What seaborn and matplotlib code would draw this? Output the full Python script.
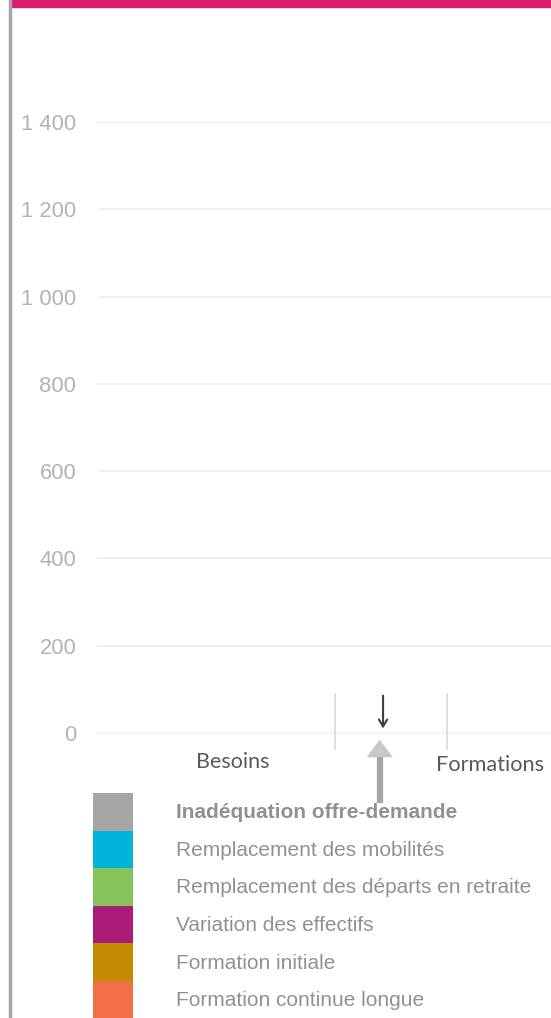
import pandas as pd
import matplotlib.pyplot as plt
import seaborn as sns
from matplotlib.patches import Patch

# données du graphique
categories = ['Besoins', 'Écart', 'Formations']
variation_effectifs = [0, 0, 0]
departs_retraite = [0, 0, 0]
mobilites = [0, 0, 0]
inadequation = [0, 0, 0]
formation_initiale = [0, 0, 0]
formation_continue = [0, 0, 1]
y_ticks = [0, 200, 400, 600, 800, 1000, 1200, 1400]

series = [
    ('Variation des effectifs', variation_effectifs, '#ab1c7a'),
    ('Remplacement des départs en retraite', departs_retraite, '#86c35b'),
    ('Remplacement des mobilités', mobilites, '#00b5d9'),
    ('Inadéquation offre-demande', inadequation, '#a5a5a5'),
    ('Formation initiale', formation_initiale, '#c28c00'),
    ('Formation continue longue', formation_continue, '#f26f45'),
]
legend_order = ['Inadéquation offre-demande', 'Remplacement des mobilités',
                'Remplacement des départs en retraite', 'Variation des effectifs',
                'Formation initiale', 'Formation continue longue']

sns.set_style('white')
plt.rcParams['font.family'] = ['Liberation Sans', 'DejaVu Sans']

W, H = 551, 1018
fig = plt.figure(figsize=(W / 100, H / 100), dpi=100)

# bandeau rose et trait gris
fig.add_artist(plt.Rectangle((11 / W, 1 - 7 / H), 1, 7 / H, color='#d6206b', transform=fig.transFigure))
fig.add_artist(plt.Line2D([10 / W, 10 / W], [0, 1], color='#a6a6a6', lw=2.5, transform=fig.transFigure))

ax = fig.add_axes([97 / W, (H - 733) / H, (W - 97) / W, (733 - 122) / H])

bottom = [0, 0, 0]
for name, vals, col in series:
    df = pd.DataFrame({'cat': categories, 'val': vals})
    sns.barplot(data=df, x='cat', y='val', order=categories, color=col,
                width=0.41, bottom=bottom, ax=ax, saturation=1, linewidth=0)
    bottom = [b + v for b, v in zip(bottom, vals)]

ax.set_ylim(0, 1400)
ax.set_xlim(-1.625, 2.43)
ax.set_yticks(y_ticks)
ax.set_yticklabels([f'{v:,}'.replace(',', ' ') for v in y_ticks], color='#b3b3b3', fontsize=15.8)
ax.tick_params(axis='y', length=0, pad=15)
ax.set_xticks([])
ax.set_xlabel('')
ax.set_ylabel('')
ax.grid(axis='y', color='#ececec', lw=1.2)
ax.set_axisbelow(True)
sns.despine(ax=ax, left=True, bottom=True)

# étiquettes des catégories
xt = ax.get_xaxis_transform()
ax.text(-0.41, -0.047, 'Besoins', transform=xt, ha='center', va='center',
        fontsize=15.5, color='#595959', family=['Lato', 'DejaVu Sans'])
ax.text(1.89, -0.052, 'Formations', transform=xt, ha='center', va='center',
        fontsize=15.7, color='#595959', family=['Lato', 'DejaVu Sans'])

# séparateurs
ax.vlines([0.5, 1.5], -39, 92, color='#d9d9d9', lw=1.2, clip_on=False)

# flèches
ax.annotate('', xy=(0.93, 4), xytext=(0.93, 92), annotation_clip=False,
            arrowprops=dict(arrowstyle='->,head_length=0.5,head_width=0.3', color='#404040', lw=1.5))
ax.plot([0.9, 0.9], [-160, -25], color='#a6a6a6', lw=4.5, clip_on=False, solid_capstyle='butt')
ax.annotate('', xy=(0.9, -9), xytext=(0.9, -35), annotation_clip=False,
            arrowprops=dict(arrowstyle='-|>,head_length=0.6,head_width=0.45', color='#c8c8c8', lw=0.5,
                            mutation_scale=20))

# légende
colors = {name: col for name, _, col in series}
handles = [Patch(facecolor=colors[n], edgecolor='none') for n in legend_order]
leg = fig.legend(handles, legend_order, loc='upper left', bbox_to_anchor=(93 / W, 1 - 793 / H),
                 frameon=False, fontsize=15, labelspacing=0.0, handlelength=1.92, handleheight=2.4,
                 handletextpad=2.05, borderpad=0, borderaxespad=0)
for t in leg.get_texts():
    t.set_color('#8e9297')
leg.get_texts()[0].set_fontweight('bold')

fig.savefig('out.png', dpi=100)
